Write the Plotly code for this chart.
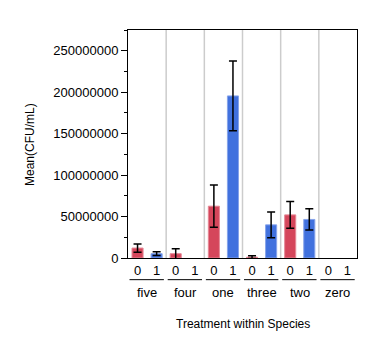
import plotly.graph_objects as go

species = ["five", "four", "one", "three", "two", "zero"]
treatments = ["0", "1"]
mean_t0 = [12000000, 5200000, 62500000, 1000000, 52000000, 0]
err_t0 = [5000000, 6000000, 25500000, 1700000, 16000000, 0]
mean_t1 = [5200000, 0, 195500000, 40000000, 46500000, 0]
err_t1 = [2300000, 0, 42000000, 15500000, 12800000, 0]
y_ticks = [0, 50000000, 100000000, 150000000, 200000000, 250000000]

FONT = "Liberation Sans, Arial, sans-serif"
n = len(species)
x0 = [2 * i for i in range(n)]
x1 = [2 * i + 1 for i in range(n)]


def shown(vals):
    # zero means draw no bar (and therefore no error bar)
    return [v if v else None for v in vals]


fig = go.Figure()
fig.add_trace(go.Bar(
    x=x0, y=shown(mean_t0), width=0.58,
    marker=dict(color="#D5465B", line=dict(color="#E58896", width=1)),
    error_y=dict(type="data", array=err_t0, visible=True, color="black", thickness=1.5, width=4),
    showlegend=False,
))
fig.add_trace(go.Bar(
    x=x1, y=shown(mean_t1), width=0.58,
    marker=dict(color="#4171DE", line=dict(color="#86A3EA", width=1)),
    error_y=dict(type="data", array=err_t1, visible=True, color="black", thickness=1.5, width=4),
    showlegend=False,
))

shapes = []
for i in range(n - 1):
    shapes.append(dict(type="line", xref="x", yref="paper", x0=2 * i + 1.5, x1=2 * i + 1.5,
                       y0=0, y1=1, line=dict(color="#CCCCCC", width=1.5), layer="below"))
annotations = []
for i, s in enumerate(species):
    shapes.append(dict(type="line", xref="x", yref="paper", x0=2 * i - 0.42, x1=2 * i + 1.38,
                       y0=-0.095, y1=-0.095, line=dict(color="black", width=1)))
    annotations.append(dict(text=s, xref="x", yref="paper", x=2 * i + 0.5, y=-0.153,
                            showarrow=False, yanchor="middle", font=dict(size=13, color="black", family=FONT)))
annotations.append(dict(text="Treatment within Species", xref="paper", yref="paper", x=0.5, y=-0.29,
                        showarrow=False, yanchor="middle", font=dict(size=12, color="black", family=FONT)))
annotations.append(dict(text="Mean(CFU/mL)", xref="paper", yref="paper", x=-0.428, y=0.5,
                        textangle=-90, showarrow=False, xanchor="center", yanchor="middle",
                        font=dict(size=12, color="black", family=FONT)))

fig.update_layout(
    width=370, height=349,
    margin=dict(l=120, r=21, t=22, b=99),
    paper_bgcolor="white", plot_bgcolor="white",
    barmode="overlay",
    shapes=shapes, annotations=annotations,
    font=dict(family=FONT, color="black"),
    xaxis=dict(range=[-0.5, 2 * n - 0.5], tickvals=x0 + x1,
               ticktext=[treatments[0]] * n + [treatments[1]] * n,
               showgrid=False, zeroline=False, showline=True, linecolor="black", linewidth=1,
               mirror=True, ticks="",
               tickfont=dict(size=13, color="black", family=FONT)),
    yaxis=dict(range=[0, 275000000], tickvals=y_ticks, ticktext=[str(v) for v in y_ticks],
               showgrid=False, zeroline=False, showline=True, linecolor="black", linewidth=1,
               mirror=True, ticks="outside", ticklen=6, tickcolor="black",
               tickfont=dict(size=13, color="black", family=FONT),
               minor=dict(dtick=25000000, tick0=0, ticks="outside", ticklen=3, tickcolor="black", showgrid=False)),
)

fig.write_html("out.html")
